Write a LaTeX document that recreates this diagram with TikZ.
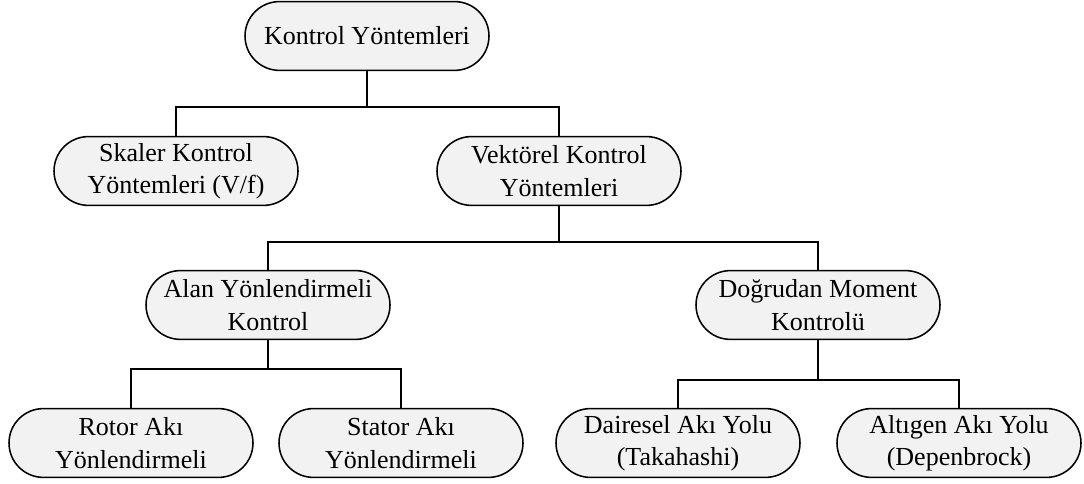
\documentclass[tikz,border=0pt]{standalone}
\usepackage{fontspec}
\setmainfont{Liberation Serif}
\usepackage{tikz}
\usetikzlibrary{shapes,positioning,fit}

\begin{document}
\begin{tikzpicture}[yntm/.style={draw, line width=1.1pt, fill=black!5, rounded corners=0.86cm,
      minimum width=6.1cm, minimum height=1.72cm, align=center, inner sep=0pt,
      font=\fontsize{18.5}{23}\selectfont},
    bag/.style={line width=1.1pt}]
          \useasboundingbox (0,0) rectangle (27.1,12.1);
          \node[yntm] (KY) at (9.175, 11.2) {Kontrol Yöntemleri};
          \node[yntm] (SK) at (4.4, 7.825) {Skaler Kontrol\\Yöntemleri (V/f)};
          \node[yntm] (VK) at (13.975, 7.825) {Vektörel Kontrol\\Yöntemleri};
          \node[yntm] (AY) at (6.7, 4.475) {Alan Yönlendirmeli\\Kontrol};
          \node[yntm] (DM) at (20.45, 4.475) {Doğrudan Moment\\Kontrolü};
          \node[yntm] (RA) at (3.275, 1.025) {Rotor Akı\\Yönlendirmeli};
          \node[yntm] (SA) at (10.025, 1.025) {Stator Akı\\Yönlendirmeli};
          \node[yntm] (DA) at (16.95, 1.025) {Dairesel Akı Yolu\\(Takahashi)};
          \node[yntm] (AA) at (23.975, 1.025) {Altıgen Akı Yolu\\(Depenbrock)};
          \coordinate (b1) at (0, 9.425);
          \coordinate (b2) at (0, 6.05);
          \coordinate (b3) at (0, 2.875);
          \coordinate (b4) at (0, 2.6);
          \draw [bag] (KY.south) -- (KY.south |- b1);
          \draw [bag] (SK.north) |- (b1 -| VK.north) -- (VK.north);
          \draw [bag] (VK.south) -- (VK.south |- b2);
          \draw [bag] (AY.north) |- (b2 -| DM.north) -- (DM.north);
          \draw [bag] (AY.south) -- (AY.south |- b3);
          \draw [bag] (RA.north) |- (b3 -| SA.north) -- (SA.north);
          \draw [bag] (DM.south) -- (DM.south |- b4);
          \draw [bag] (DA.north) |- (b4 -| AA.north) -- (AA.north);
\end{tikzpicture}
\end{document}
